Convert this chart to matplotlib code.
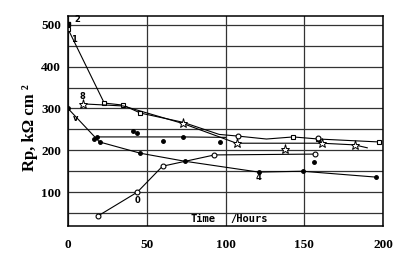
import matplotlib
matplotlib.use("Agg")
import matplotlib.pyplot as plt
from matplotlib.ticker import MultipleLocator

# curve 1 (open squares) and point 2
s1_x = [0, 23, 35, 46, 73, 96, 108, 126, 143, 159, 197.5]
s1_y = [490, 313, 308, 289, 267, 238, 234, 227, 232, 227, 220]
s1_mark_x = [0, 23, 35, 46, 143, 159, 197.5]
s1_mark_y = [490, 313, 308, 289, 232, 227, 220]
s2_x = [0]
s2_y = [503]

# curve 8 (stars)
s8_x = [9.5, 35, 73, 107, 161, 182, 190]
s8_y = [311, 306, 264, 217, 217, 213, 206]
s8_mark_x = [9.5, 73, 107, 161, 182, 138]
s8_mark_y = [311, 266, 217, 217, 213, 203]

# curve 4 (filled dots)
s4_x = [0, 20, 46, 74, 121, 149, 195.5]
s4_y = [300, 220, 193, 174, 148, 150, 136]

# flat curve (filled dots)
sf_x = [18.4, 73, 100]
sf_y = [232, 232, 231]
sf_dot_x = [16.5, 18.4, 41, 44, 60, 73, 96.5, 156]
sf_dot_y = [227, 232, 246, 241, 222, 232, 220, 172]

# open circle curve
so_x = [19, 44, 60, 93, 157]
so_y = [43, 100, 162, 189, 191]
so_extra_x = [108, 159]
so_extra_y = [234, 229]

fig = plt.figure(figsize=(4.0, 2.54), dpi=100)
ax = fig.add_axes([0.17, 0.11, 0.7875, 0.827])

serif = "Liberation Serif"

ax.plot(s1_x, s1_y, color="black", lw=0.8)
ax.plot(s1_mark_x, s1_mark_y, ls="none", marker="s", ms=3.5, mfc="white", mec="black", mew=0.8)
ax.plot(s2_x, s2_y, ls="none", marker="s", ms=3.5, color="black")

ax.plot(s8_x, s8_y, color="black", lw=0.8)
ax.plot(s8_mark_x, s8_mark_y, ls="none", marker="*", ms=6.5, mfc="white", mec="black", mew=0.7)

ax.plot(s4_x, s4_y, color="black", lw=0.8, marker="o", ms=2.5)

ax.plot(sf_x, sf_y, color="black", lw=0.8)
ax.plot(sf_dot_x, sf_dot_y, ls="none", marker="o", ms=2.5, color="black")

ax.plot(so_x, so_y, color="black", lw=0.8, marker="o", ms=3.5, mfc="white", mec="black", mew=0.8)
ax.plot(so_extra_x, so_extra_y, ls="none", marker="o", ms=3.5, mfc="white", mec="black", mew=0.8)

# curve labels
ax.text(4, 512, "2", fontsize=6, fontweight="bold", ha="left", va="center")
ax.text(2, 464, "1", fontsize=6, fontweight="bold", ha="left", va="center")
ax.text(9, 328, "8", fontsize=6, fontweight="bold", ha="center", va="center")
ax.text(3, 277, "v", fontsize=6, fontweight="bold", ha="left", va="center")
ax.text(121, 134, "4", fontsize=6, fontweight="bold", ha="center", va="center")
ax.text(44, 81, "0", fontsize=6, fontweight="bold", ha="center", va="center")

ax.text(77.5, 35, "Time", family="DejaVu Sans Mono", fontsize=7.5,
        fontweight="bold", ha="left", va="center")
ax.text(103, 35, "/Hours", family="DejaVu Sans Mono", fontsize=7.5,
        fontweight="bold", ha="left", va="center")

ax.set_xlim(0, 200)
ax.set_ylim(19, 521)
ax.xaxis.set_major_locator(MultipleLocator(50))
ax.yaxis.set_minor_locator(MultipleLocator(50))
ax.set_yticks([100, 200, 300, 400, 500])
ax.grid(True, which="both", color="#333333", lw=0.9)
ax.tick_params(which="both", length=0)
ax.tick_params(axis="x", pad=9)
ax.tick_params(axis="y", pad=5)
for lab in ax.get_xticklabels() + ax.get_yticklabels():
    lab.set_fontfamily(serif)
    lab.set_fontweight("bold")
    lab.set_fontsize(9.5)
for sp in ax.spines.values():
    sp.set_linewidth(1.1)

fig.text(0.075, 1 - 128 / 254, "Rp, k\u03a9 cm \u00b2", rotation=90, family=serif,
         fontweight="bold", fontsize=12, ha="center", va="center")

fig.savefig("out.png", dpi=100, facecolor="white")
